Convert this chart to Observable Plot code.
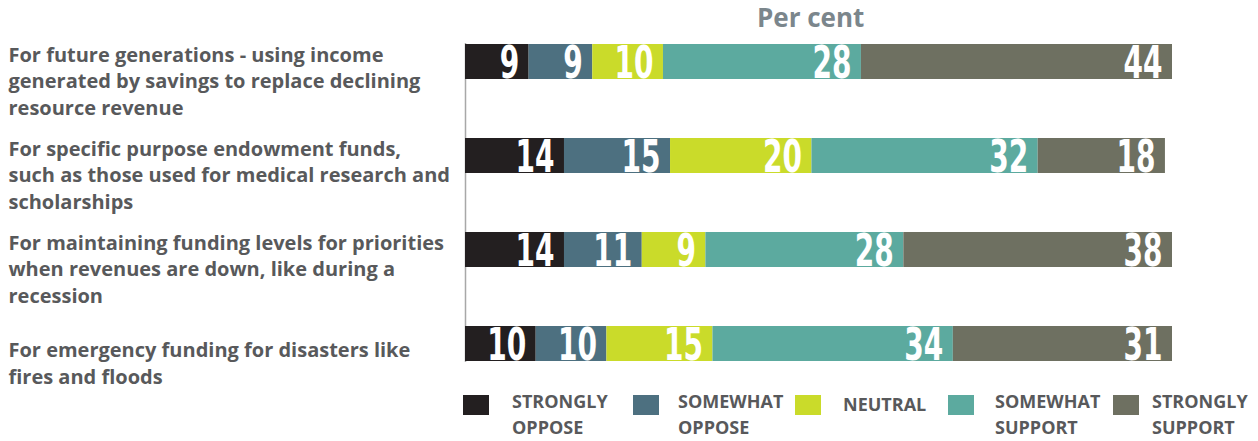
<!DOCTYPE html>
<html>
<head>
<meta charset="utf-8">
<script src="https://cdn.jsdelivr.net/npm/d3@7"></script>
<script src="https://cdn.jsdelivr.net/npm/@observablehq/plot@0.6"></script>
<style>
  html, body { margin: 0; padding: 0; background: #fff; }
  body { width: 1258px; height: 441px; overflow: hidden; font-family: "Open Sans", "Noto Sans", sans-serif; }
  #title { position: relative; height: 34px; }
  #title span { position: absolute; left: 757px; top: 4px; font-size: 26px; line-height: 26px; font-weight: 700; color: #7b868c; }
  #legend { position: relative; height: 37px; }
  .sw { position: absolute; width: 26px; height: 20px; }
  .lt { position: absolute; font-size: 18px; line-height: 26px; font-weight: 700; color: #58595b; white-space: pre-line; }
  svg { display: block; }
</style>
</head>
<body>
<div id="title"><span>Per cent</span></div>
<div id="chart"></div>
<div id="legend"></div>
<script>
// ---- data ----
const questions = [
  "For future generations - using income\ngenerated by savings to replace declining\nresource revenue",
  "For specific purpose endowment funds,\nsuch as those used for medical research and\nscholarships",
  "For maintaining funding levels for priorities\nwhen revenues are down, like during a\nrecession",
  "For emergency funding for disasters like\nfires and floods"
];
const responses = ["Strongly oppose", "Somewhat oppose", "Neutral", "Somewhat support", "Strongly support"];
const legendLabels = ["STRONGLY\nOPPOSE", "SOMEWHAT\nOPPOSE", "NEUTRAL", "SOMEWHAT\nSUPPORT", "STRONGLY\nSUPPORT"];
const stronglyOppose  = [9, 14, 14, 10];
const somewhatOppose  = [9, 15, 11, 10];
const neutral         = [10, 20, 9, 15];
const somewhatSupport = [28, 32, 28, 34];
const stronglySupport = [44, 18, 38, 31];

// ---- styles / layout ----
const palette = ["#231f20", "#4d7080", "#cadb2a", "#5caa9f", "#6e7061"];
const legendSwatchLeft = [463, 633, 795, 948, 1113];
const legendTextLeft = [512, 678, 843, 995, 1152];
const digitWidth = 19.5;

const series = [stronglyOppose, somewhatOppose, neutral, somewhatSupport, stronglySupport];
const rows = [];
questions.forEach((q, i) => {
  responses.forEach((r, j) => rows.push({question: q, response: r, value: series[j][i]}));
});

const labelFont = '"Liberation Sans Narrow", "DejaVu Sans Condensed", "Arial Narrow", sans-serif';

const chart = Plot.plot({
  width: 1258,
  height: 370,
  marginLeft: 465,
  marginRight: 86,
  marginTop: 9,
  marginBottom: 42,
  x: {domain: [0, 100], axis: null},
  y: {domain: questions, axis: null, paddingInner: 0.63, paddingOuter: 0},
  color: {domain: responses, range: palette},
  style: {fontFamily: '"Open Sans", "Noto Sans", sans-serif'},
  marks: [
    Plot.ruleX([0], {stroke: "#a8a8a8", strokeWidth: 1.5}),
    Plot.barX(rows, {x: "value", y: "question", fill: "response", order: responses}),
    Plot.text(rows, Plot.stackX2({
      x: "value", y: "question", z: "response", order: responses,
      text: d => String(d.value),
      textAnchor: "end", dx: -10, dy: 2,
      fill: "white", fontSize: 44, fontWeight: 700, fontFamily: labelFont
    })),
    Plot.text(questions, {
      y: d => d, text: d => d,
      frameAnchor: "left", textAnchor: "start", dx: -457,
      lineAnchor: "middle", dy: 18, lineHeight: 1.325,
      fill: "#58595b", fontSize: 20, fontWeight: 700
    })
  ]
});
// condense the value labels horizontally
const valueGroup = chart.querySelectorAll('g[aria-label="text"]')[0];
valueGroup.querySelectorAll("text").forEach(t => {
  const n = t.textContent.length;
  t.setAttribute("textLength", digitWidth * n);
  t.setAttribute("lengthAdjust", "spacingAndGlyphs");
});
document.getElementById("chart").appendChild(chart);

const legend = document.getElementById("legend");
responses.forEach((r, j) => {
  const sw = document.createElement("div");
  sw.className = "sw";
  sw.style.left = legendSwatchLeft[j] + "px";
  sw.style.top = "-9px";
  sw.style.background = palette[j];
  legend.appendChild(sw);
  const t = document.createElement("div");
  t.className = "lt";
  t.textContent = legendLabels[j];
  t.style.left = legendTextLeft[j] + "px";
  t.style.top = (legendLabels[j].includes("\n") ? -16 : -13) + "px";
  legend.appendChild(t);
});
</script>
</body>
</html>
